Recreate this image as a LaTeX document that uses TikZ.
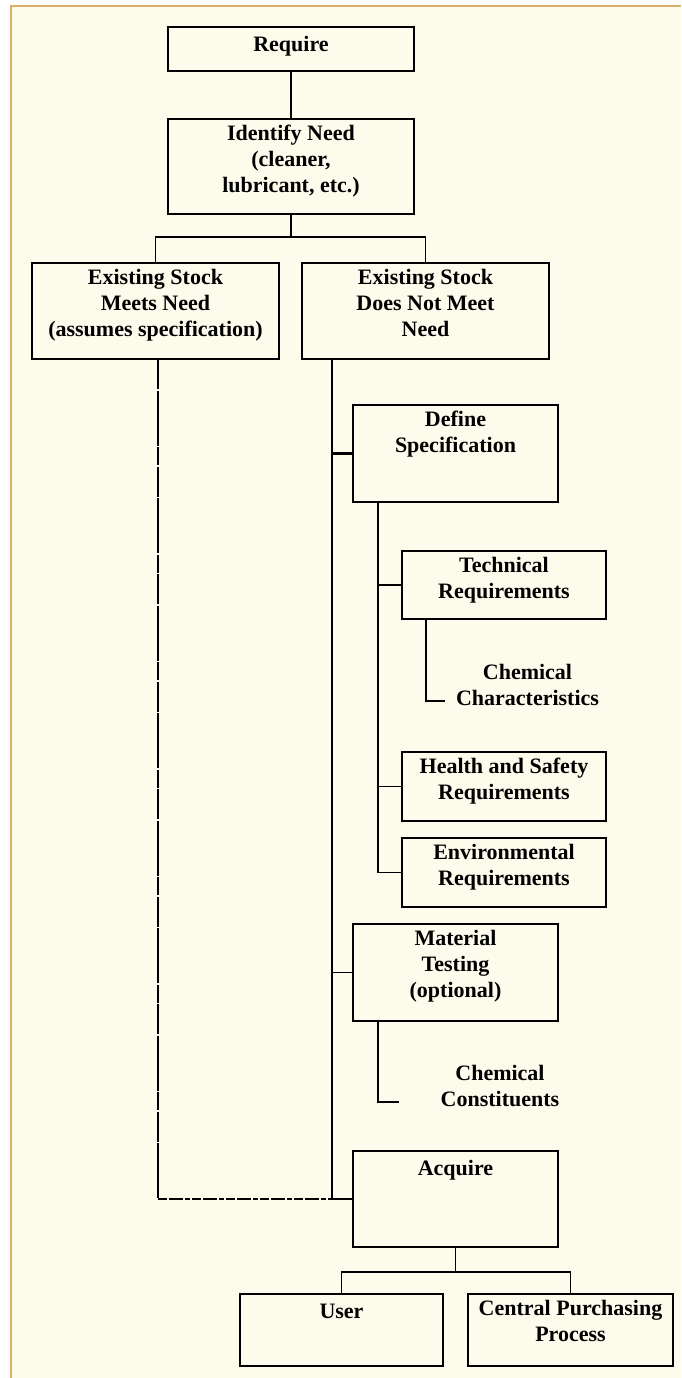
\documentclass[tikz,border=0pt]{standalone}
\usepackage{fontspec}
\setmainfont{Liberation Serif}
\definecolor{paper}{HTML}{FDFBEB}
\definecolor{frameline}{HTML}{D8B06C}
\tikzset{
  box/.style={draw, rectangle, line width=1.6pt, inner sep=0pt, outer sep=0pt},
  lbl/.style={inner sep=0pt, align=center,
    font=\fontsize{22}{25.8}\selectfont\bfseries,
    execute at begin node={\strut}},
  link/.style={line width=1.6pt},
  boldlink/.style={line width=3pt},
  stockdash/.style={line width=1.6pt, dash pattern=on 30pt off 1.5pt on 55pt off 1.5pt on 18pt off 1.5pt},
  stockdashh/.style={line width=2.6pt, dash pattern=on 9pt off 2pt on 14pt off 2pt on 5pt off 2pt}
}
% a box with its title set at the top
\newcommand{\topbox}[6]{%
  \node[box, minimum width=#3pt, minimum height=#4pt] (#1) at (#2) {};
  \node[lbl, anchor=north] (#1-t) at ([yshift=-6pt]#1.north) {#5};
}
\begin{document}
\begin{tikzpicture}[x=1pt, y=-1pt]
  \useasboundingbox (0,0) rectangle (681,1378);
  \fill[white] (0,0) rectangle (681,1378);
  \fill[paper] (11,6) rectangle (681,1378);
  \draw[frameline, line width=2pt] (11,1378) -- (11,6) -- (681,6);

  % boxes
  \topbox{req}{291,49}{246}{44}{Require}{}
  \topbox{ident}{291,166.5}{246}{95}{Identify Need\\(cleaner,\\lubricant, etc.)}{}
  \topbox{meets}{155.5,311}{247}{96}{Existing Stock\\Meets Need\\(assumes specification)}{}
  \topbox{notmeet}{425.5,311}{247}{96}{Existing Stock\\Does Not Meet\\Need}{}
  \topbox{define}{455.5,453.5}{205}{97}{Define\\Specification}{}
  \topbox{tech}{504,585}{204}{68}{Technical\\Requirements}{}
  \topbox{health}{504,786.5}{204}{69}{Health and Safety\\Requirements}{}
  \topbox{env}{504,872.5}{204}{69}{Environmental\\Requirements}{}
  \topbox{material}{455.5,972.5}{205}{97}{Material\\Testing\\(optional)}{}
  \topbox{acquire}{455.5,1199}{205}{96}{Acquire}{}
  \topbox{user}{341.5,1330}{203}{72}{User}{}
  \topbox{central}{570.5,1330}{205}{72}{Central Purchasing\\Process}{}

  % free-standing items
  \node[lbl, anchor=north] (chemchar) at (527.5,664) {Chemical\\Characteristics};
  \node[lbl, anchor=north] (chemcons) at (500,1065) {Chemical\\Constituents};

  % top of the tree
  \draw[link] (req) -- (ident);
  \coordinate (bus1) at (291,237);
  \draw[link] (ident.south) -- (bus1) -| (meets.north);
  \draw[link] (bus1) -| (notmeet.north);

  % main spine below "does not meet need"
  \coordinate (m0) at ([xshift=30pt]notmeet.south west);
  \draw[link] (m0) -- (m0 |- acquire.west);
  \draw[boldlink] (m0 |- define.west) -- (define.west);
  \draw[link] (m0 |- material.west) -- (material.west);
  \draw[line width=2.6pt] (m0 |- acquire.west) -- (acquire.west);

  % specification branches
  \coordinate (s0) at ([xshift=25pt]define.south west);
  \draw[link] (s0) |- (env.west);
  \draw[link] (s0 |- tech.west) -- (tech.west);
  \draw[link] (s0 |- health.west) -- (health.west);
  \coordinate (t0) at ([xshift=24pt]tech.south west);
  \coordinate (chcend) at (445,701);
  \draw[link] (t0) |- (chcend);

  % testing branch
  \coordinate (mt0) at ([xshift=25pt]material.south west);
  \coordinate (ccend) at (399,1102);
  \draw[link] (mt0) |- (ccend);

  % existing stock goes straight to acquisition
  \coordinate (d0) at ([xshift=2.5pt]meets.south);
  \coordinate (d1) at (d0 |- acquire.west);
  \draw[stockdash] (d0) -- (d1);
  \draw[stockdashh] (d1) -- (m0 |- acquire.west);

  % purchasing routes
  \coordinate (bus2) at (455.5,1272);
  \draw[link] (acquire.south) -- (bus2) -| (user.north);
  \draw[link] (bus2) -| (central.north);
\end{tikzpicture}
\end{document}
